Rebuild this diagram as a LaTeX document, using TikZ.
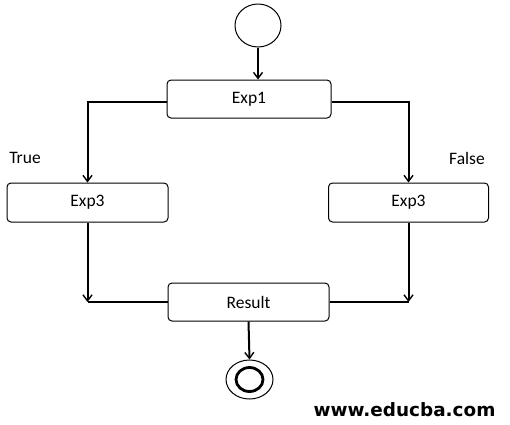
\documentclass[tikz,border=0pt]{standalone}
\usepackage{fontspec}
\setmainfont{Carlito}
\newfontfamily\wmfont{DejaVu Sans}
\usetikzlibrary{arrows.meta,shapes.geometric}
\begin{document}
\begin{tikzpicture}[x=1pt,y=-1pt,
  box/.style={draw, rounded corners=4pt, line width=1pt, inner sep=0pt,
    minimum height=38pt, font=\fontsize{17.5}{20}\selectfont},
  conn/.style={line width=2pt},
  arr/.style={conn, -{Straight Barb[length=6pt,width=9pt,line width=1.4pt]}},
  lbl/.style={font=\fontsize{17.5}{20}\selectfont, inner sep=0pt}]
\useasboundingbox (0,0) rectangle (510,424);
\node[draw, ellipse, line width=1pt, minimum width=46pt, minimum height=43pt, inner sep=0pt] (start) at (258,25.5) {};
\node[box, minimum width=164pt] (exp1) at (249,99) {Exp1};
\node[box, minimum width=161pt, minimum height=39pt] (exp3l) at (87.5,202.5) {Exp3};
\node[box, minimum width=160pt, minimum height=39pt] (exp3r) at (408.5,202.5) {Exp3};
\node[box, minimum width=161pt] (result) at (248.5,302) {Result};
\node[draw, ellipse, line width=1pt, minimum width=47pt, minimum height=39pt, inner sep=0pt] (end) at (249.5,379.5) {};
\node[draw, ellipse, line width=2.8pt, minimum width=27pt, minimum height=24pt, inner sep=0pt] (endin) at (249.5,379.5) {};
\node[lbl] (true) at (25,158) {True};
\node[lbl] (false) at (467,158) {False};
\node[inner sep=0pt, font=\wmfont\bfseries\fontsize{18.4}{20}\selectfont] (wm) at (404.5,409.5) {www.educba.com};
\draw[arr] (start.south) -- (start.south |- exp1.north);
\draw[arr] ([yshift=-3pt]exp1.west) -| (exp3l.north);
\draw[arr] ([yshift=-3pt]exp1.east) -| (exp3r.north);
\coordinate (jl) at (exp3l.south |- result.west);
\coordinate (jr) at (exp3r.south |- result.west);
\draw[arr] (exp3l.south) -- (jl);
\draw[arr] (exp3r.south) -- (jr);
\draw[conn] (result.west) -- (jl);
\draw[conn] (result.east) -- (jr);
\draw[arr] (result.south) -- (end.north);
\end{tikzpicture}
\end{document}
